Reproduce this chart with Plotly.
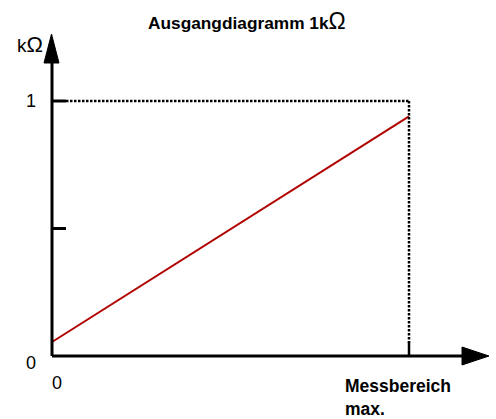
import plotly.graph_objects as go

# Data
x_vals = [0.0, 1.0]
y_vals = [0.055, 0.94]
y_ticks = [0.5, 1.0]
x_tick_labels = ["0", "Messbereich<br>max."]

W, H = 496, 419
X0_PX, X1_PX = 52, 409
Y0_PX, Y1_PX = 356, 101
ux = X1_PX - X0_PX
uy = Y0_PX - Y1_PX
xr = [-X0_PX / ux, (W - X0_PX) / ux]
yr = [-(H - Y0_PX) / uy, Y0_PX / uy]

def px(x):
    return (x - X0_PX) / ux

def py(y):
    return (Y0_PX - y) / uy

FONT = "Liberation Sans, Arial"
DOT = "2.5px,1.5px"

fig = go.Figure()
fig.add_trace(go.Scatter(x=x_vals, y=y_vals, mode="lines",
                         line=dict(color="#b00000", width=2), hoverinfo="skip"))

shapes = []
shapes.append(dict(type="line", x0=px(66), y0=1.0, x1=1.0, y1=1.0,
                   line=dict(color="black", width=2.5, dash=DOT)))
shapes.append(dict(type="line", x0=1.0, y0=1.0, x1=1.0, y1=py(343),
                   line=dict(color="black", width=2.5, dash=DOT)))
shapes.append(dict(type="line", x0=0, y0=0, x1=0, y1=py(60),
                   line=dict(color="black", width=3)))
shapes.append(dict(type="line", x0=0, y0=0, x1=px(465), y1=0,
                   line=dict(color="black", width=3)))
for t in y_ticks:
    shapes.append(dict(type="line", x0=0, y0=t, x1=px(66), y1=t,
                       line=dict(color="black", width=3)))
shapes.append(dict(type="line", x0=1.0, y0=0, x1=1.0, y1=py(342),
                   line=dict(color="black", width=2.5)))
shapes.append(dict(type="path",
                   path=f"M {px(44)} {py(63)} L {px(51.5)} {py(34)} L {px(59)} {py(63)} Z",
                   fillcolor="black", line=dict(color="black", width=1)))
shapes.append(dict(type="path",
                   path=f"M {px(462)} {py(347)} L {px(489)} {py(356)} L {px(462)} {py(365)} Z",
                   fillcolor="black", line=dict(color="black", width=1)))

annotations = [
    dict(x=px(247), y=py(21), text="<b>Ausgangdiagramm 1k</b><span style='font-size:23px'>Ω</span>",
         showarrow=False, font=dict(family=FONT, size=17.3, color="black")),
    dict(x=px(30), y=py(44), text="k<span style='font-size:22px'>Ω</span>", showarrow=False,
         font=dict(family=FONT, size=19, color="black")),
    dict(x=px(31), y=py(101), text="1", showarrow=False,
         font=dict(family=FONT, size=18, color="black")),
    dict(x=px(31), y=py(363), text="0", showarrow=False,
         font=dict(family=FONT, size=18, color="black")),
    dict(x=px(57), y=py(383), text=x_tick_labels[0], showarrow=False,
         font=dict(family=FONT, size=18, color="black")),
    dict(x=px(343), y=py(397), text="<b>" + x_tick_labels[1] + "</b>", showarrow=False,
         xanchor="left", align="left",
         font=dict(family=FONT, size=17.5, color="black")),
]

fig.update_layout(
    width=W, height=H, autosize=False,
    margin=dict(l=0, r=0, t=0, b=0),
    paper_bgcolor="white", plot_bgcolor="white",
    showlegend=False,
    xaxis=dict(range=xr, visible=False, fixedrange=True),
    yaxis=dict(range=yr, visible=False, fixedrange=True),
    shapes=shapes, annotations=annotations,
)
fig.write_html("out.html", config={"displayModeBar": False},
               post_script="document.body.style.margin='0';document.body.style.overflow='hidden';")
